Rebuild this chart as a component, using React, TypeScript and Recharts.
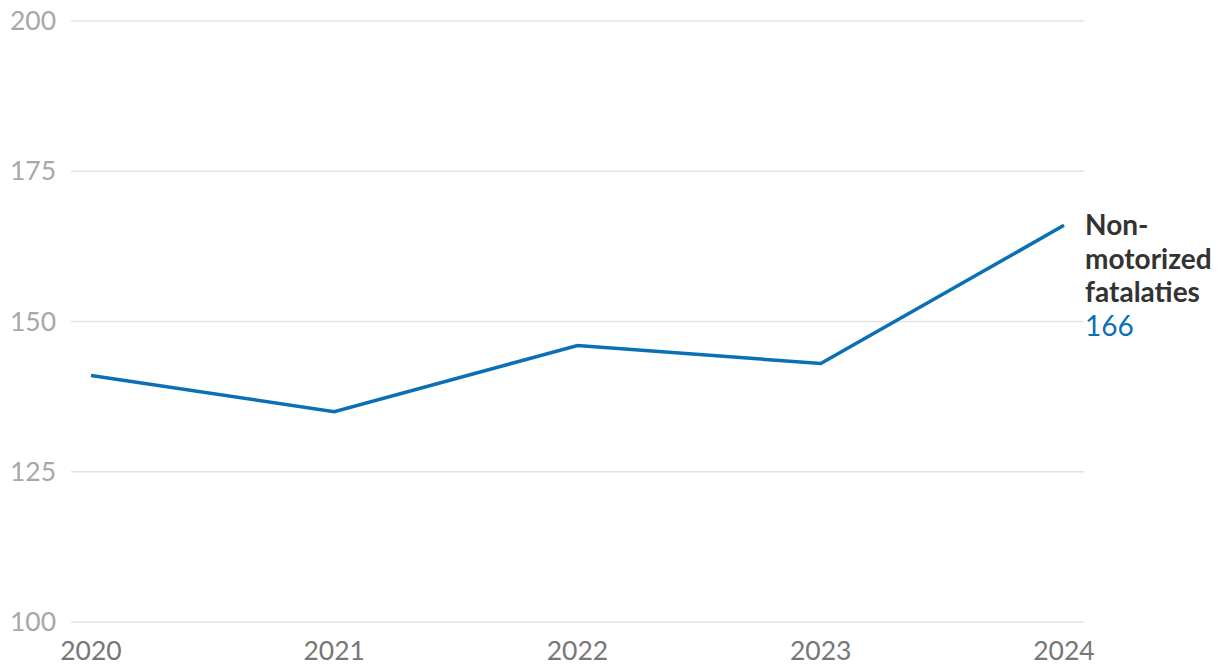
import { LineChart, Line, XAxis, YAxis, CartesianGrid } from 'recharts';

const years = ['2020', '2021', '2022', '2023', '2024'];
const fatalities = [141, 135, 146, 143, 166];
const yTicks = [100, 125, 150, 175, 200];
const seriesLabel = ['Non-', 'motorized', 'fatalaties'];

const LINE_COLOR = '#0a6fb5';
const FONT = 'Lato, "Open Sans", sans-serif';

const data = years.map((year, i) => ({ year, value: fatalities[i] }));

// y ticks sit left-aligned at the page edge
const YTick = ({ y, payload }: any) => (
    <text x={10} y={y} dy={9} textAnchor="start" fontSize={26.5} fontFamily={FONT} fill="#a8a8a8">
        {payload.value}
    </text>
);

const XTick = ({ x, y, payload }: any) => (
    <text x={x} y={y} dy={38} textAnchor="middle" fontSize={26.5} fontFamily={FONT} fill="#777777">
        {payload.value}
    </text>
);

// end-of-line label, only on the last point
const EndLabel = ({ x, y, index }: any) => {
    if (index !== data.length - 1) return null;
    const lx = x + 21;
    return (
        <g fontFamily={FONT} fontSize={28}>
            {seriesLabel.map((t, i) => (
                <text key={t} x={lx} y={y + 10 + i * 33.5} fill="#333333" fontWeight={700}>
                    {t}
                </text>
            ))}
            <text x={lx} y={y + 10 + seriesLabel.length * 33.5} fill={LINE_COLOR}>
                {data[index].value}
            </text>
        </g>
    );
};

export default function App() {
    return (
        <div style={{ position: 'absolute', left: 0, top: 0, width: 1220, height: 672, background: '#fff' }}>
            <LineChart
                width={1220}
                height={672}
                data={data}
                margin={{ top: 21, right: 136, left: 0, bottom: 0 }}
            >
                <CartesianGrid vertical={false} stroke="#e3e3e3" strokeWidth={1.5} />
                <XAxis
                    dataKey="year"
                    axisLine={false}
                    tickLine={false}
                    tickSize={0}
                    tickMargin={0}
                    height={50}
                    padding={{ left: 20, right: 20 }}
                    tick={<XTick />}
                    interval={0}
                />
                <YAxis
                    domain={[100, 200]}
                    ticks={yTicks}
                    axisLine={false}
                    tickLine={false}
                    width={71}
                    tick={<YTick />}
                    interval={0}
                />
                <Line
                    type="linear"
                    dataKey="value"
                    stroke={LINE_COLOR}
                    strokeWidth={3.5}
                    dot={false}
                    activeDot={false}
                    isAnimationActive={false}
                    label={<EndLabel />}
                />
            </LineChart>
        </div>
    );
}
